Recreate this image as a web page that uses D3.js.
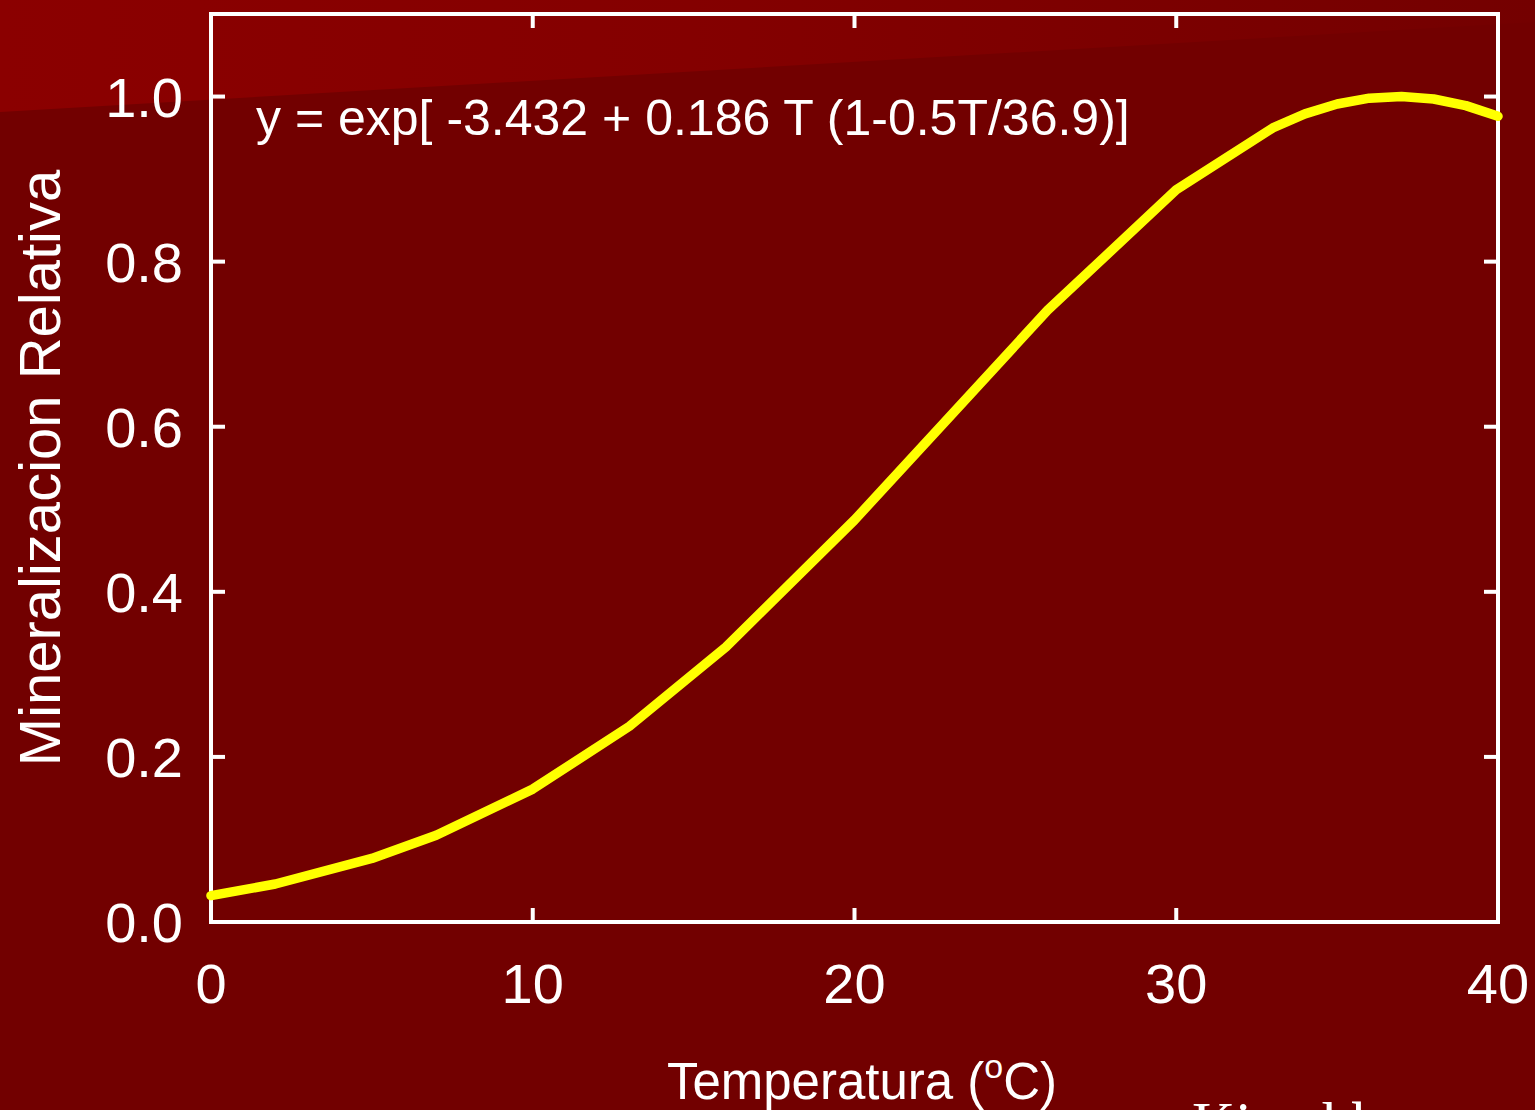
<!DOCTYPE html>
<html>
<head>
<meta charset="utf-8">
<script src="https://cdn.jsdelivr.net/npm/d3@7/dist/d3.min.js"></script>
<style>
  html, body { margin: 0; padding: 0; background: #720000; overflow: hidden; }
  svg { display: block; }
</style>
</head>
<body>
<script>
// Relative mineralization versus temperature (Kirschbaum fit)
const temperature = [0, 2, 5, 7, 10, 13, 16, 20, 23, 26, 30, 33, 34, 35, 36, 37, 38, 39, 40];
const mineralization = [0.032, 0.046, 0.077, 0.105, 0.161, 0.237, 0.333, 0.487, 0.614, 0.741, 0.887, 0.962, 0.979, 0.991, 0.998, 1.0, 0.997, 0.989, 0.976];
const xTicks = [0, 10, 20, 30, 40];
const yTicks = [0.0, 0.2, 0.4, 0.6, 0.8, 1.0];
const equationLabel = "y = exp[ -3.432 + 0.186 T (1-0.5T/36.9)]";
const xTitle = "Temperatura (";
const yTitle = "Mineralizacion Relativa";
const sourceLabel = "Kirschbaum";

const W = 1535, H = 1110;
const plot = { left: 211, right: 1498, top: 14, bottom: 922 };

const svg = d3.select("body").append("svg").attr("width", W).attr("height", H);

// background with lighter band in the upper left
const defs = svg.append("defs");
const grad = defs.append("linearGradient").attr("id", "band")
  .attr("x1", "0").attr("y1", "0").attr("x2", "1").attr("y2", "0");
grad.append("stop").attr("offset", "0").attr("stop-color", "#8b0000");
grad.append("stop").attr("offset", "0.45").attr("stop-color", "#840000");
grad.append("stop").attr("offset", "1").attr("stop-color", "#740000");

svg.append("rect").attr("width", W).attr("height", H).attr("fill", "#720000");
svg.append("path").attr("d", `M0,0 L${W},0 L${W},22 L0,112 Z`).attr("fill", "url(#band)");

const x = d3.scaleLinear().domain([0, 40]).range([plot.left, plot.right]);
const y = d3.scaleLinear().domain([0, 1.1]).range([plot.bottom, plot.top]);

const font = "'Liberation Sans', Arial, sans-serif";
const tickLen = 14;

// frame
const axisG = svg.append("g").attr("stroke", "#ffffff").attr("stroke-width", 4).attr("fill", "none");
axisG.append("rect")
  .attr("x", plot.left).attr("y", plot.top)
  .attr("width", plot.right - plot.left).attr("height", plot.bottom - plot.top);

// inward ticks on all four sides
xTicks.forEach(t => {
  axisG.append("line").attr("x1", x(t)).attr("x2", x(t)).attr("y1", plot.bottom).attr("y2", plot.bottom - tickLen);
  axisG.append("line").attr("x1", x(t)).attr("x2", x(t)).attr("y1", plot.top).attr("y2", plot.top + tickLen);
});
yTicks.forEach(t => {
  axisG.append("line").attr("x1", plot.left).attr("x2", plot.left + tickLen).attr("y1", y(t)).attr("y2", y(t));
  axisG.append("line").attr("x1", plot.right).attr("x2", plot.right - tickLen).attr("y1", y(t)).attr("y2", y(t));
});

// tick labels
svg.append("g").selectAll("text").data(xTicks).join("text")
  .attr("x", d => x(d)).attr("y", 1003)
  .attr("text-anchor", "middle")
  .attr("font-family", font).attr("font-size", 56).attr("fill", "#ffffff")
  .text(d => d3.format("d")(d));

svg.append("g").selectAll("text").data(yTicks).join("text")
  .attr("x", 183).attr("y", d => y(d) + 20)
  .attr("text-anchor", "end")
  .attr("font-family", font).attr("font-size", 56).attr("fill", "#ffffff")
  .text(d => d3.format(".1f")(d));

// axis titles
const xt = svg.append("text")
  .attr("x", 862).attr("y", 1099)
  .attr("text-anchor", "middle")
  .attr("font-family", font).attr("font-size", 51).attr("fill", "#ffffff");
xt.append("tspan").text(xTitle);
xt.append("tspan").attr("font-size", 34).attr("dy", -21).text("o");
xt.append("tspan").attr("dy", 21).text("C)");

svg.append("text")
  .attr("transform", `translate(60,${468}) rotate(-90)`)
  .attr("text-anchor", "middle")
  .attr("font-family", font).attr("font-size", 58).attr("fill", "#ffffff")
  .text(yTitle);

// fitted equation
svg.append("text")
  .attr("x", 256).attr("y", 135)
  .attr("font-family", font).attr("font-size", 50).attr("fill", "#ffffff")
  .text(equationLabel);

// curve
const line = d3.line().x((d, i) => x(temperature[i])).y(d => y(d));
svg.append("path")
  .datum(mineralization)
  .attr("d", line)
  .attr("fill", "none")
  .attr("stroke", "#ffff00")
  .attr("stroke-width", 9.5)
  .attr("stroke-linecap", "round")
  .attr("stroke-linejoin", "round");

// source, running past the bottom edge
svg.append("text")
  .attr("x", 1192).attr("y", 1143)
  .attr("font-family", "'Liberation Serif', 'Times New Roman', serif")
  .attr("font-size", 60).attr("fill", "#ffffff")
  .text(sourceLabel);
</script>
</body>
</html>
